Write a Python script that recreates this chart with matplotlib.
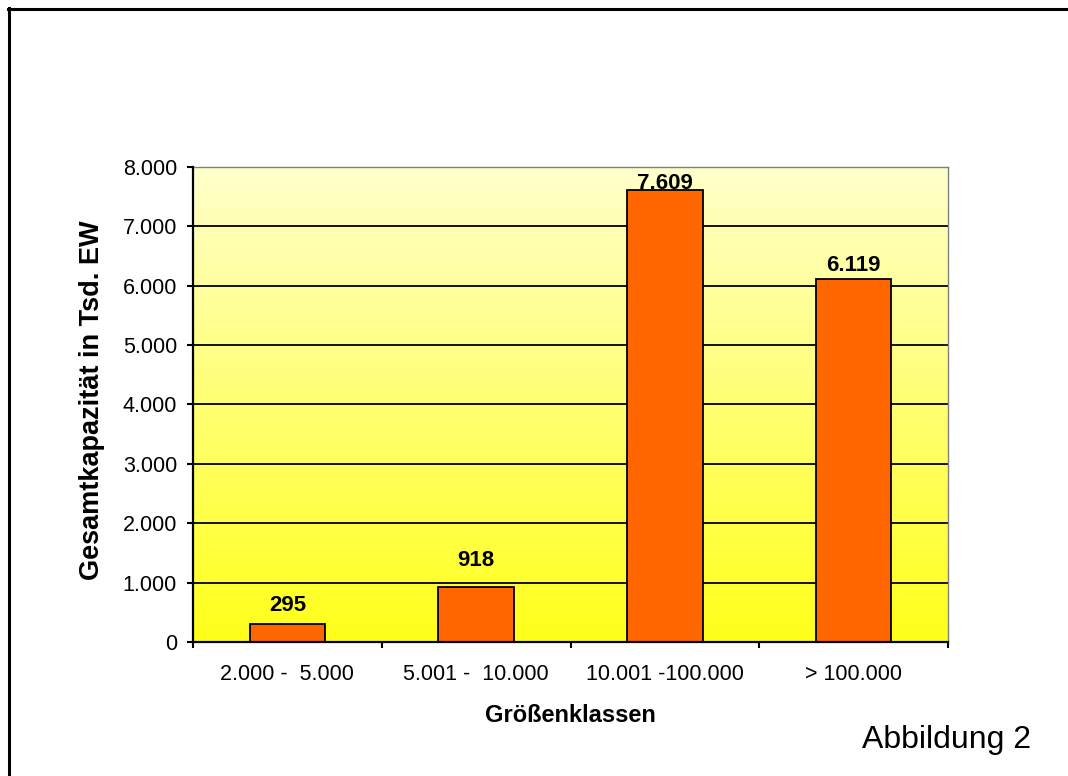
import numpy as np
import matplotlib
matplotlib.use("Agg")
import matplotlib.pyplot as plt
from matplotlib.colors import LinearSegmentedColormap
from matplotlib.lines import Line2D
from matplotlib.ticker import FuncFormatter

plt.rcParams['font.family'] = ['Liberation Sans', 'DejaVu Sans']

categories = ["2.000 -  5.000", "5.001 -  10.000", "10.001 -100.000", "> 100.000"]
values = [295, 918, 7609, 6119]
value_labels = ["295", "918", "7.609", "6.119"]
y_ticks = [0, 1000, 2000, 3000, 4000, 5000, 6000, 7000, 8000]

W, H = 1068, 776
fig = plt.figure(figsize=(W / 100, H / 100), dpi=100)
fig.patch.set_facecolor("white")

ax_l, ax_r, ax_t, ax_b = 193, 948, 167, 642
ax = fig.add_axes([ax_l / W, 1 - ax_b / H, (ax_r - ax_l) / W, (ax_b - ax_t) / H])

x = np.arange(len(categories))
ax.set_xlim(-0.5, len(categories) - 0.5)
ax.set_ylim(0, 8000)

# gradient background
cmap = LinearSegmentedColormap.from_list("yel", [(1.0, 1.0, 0.10), (1.0, 1.0, 0.80)])
grad = np.linspace(0, 1, 256).reshape(-1, 1)
ax.imshow(grad, cmap=cmap, origin="lower", aspect="auto",
          extent=[-0.5, len(categories) - 0.5, 0, 8000], zorder=0)

# gridlines
for yv in y_ticks[1:-1]:
    ax.axhline(yv, color="black", lw=1.3, zorder=1)

bars = ax.bar(x, values, width=0.40, color="#FF6600", edgecolor="black",
              linewidth=1.3, zorder=2)

gaps_px = [13, 21, 1, 8]
for xi, v, lab, g in zip(x, values, value_labels, gaps_px):
    ax.annotate(lab, xy=(xi, v), xytext=(0, g * 0.72), textcoords="offset points",
                ha="center", va="baseline", fontsize=16, fontweight="bold", zorder=5)

ax.set_yticks(y_ticks)
ax.yaxis.set_major_formatter(FuncFormatter(lambda v, p: f"{int(v):,}".replace(",", ".")))
ax.tick_params(axis="y", direction="out", length=4.5, width=1.5, labelsize=15.5, pad=7)

ax.set_xticks(np.arange(-0.5, len(categories), 1.0))
ax.set_xticklabels([])
ax.set_xticks(x, minor=True)
ax.set_xticklabels(categories, minor=True)
ax.tick_params(axis="x", which="major", direction="out", length=4.5, width=1.5)
ax.tick_params(axis="x", which="minor", length=0, labelsize=15.5, pad=16)

for s in ["left", "bottom"]:
    ax.spines[s].set_color("black")
    ax.spines[s].set_linewidth(1.6)
for s in ["top", "right"]:
    ax.spines[s].set_color("#808080")
    ax.spines[s].set_linewidth(1.0)
ax.spines["left"].set_zorder(4)
ax.spines["bottom"].set_zorder(4)

fig.text(92 / W, 1 - 400 / H, "Gesamtkapazität in Tsd. EW", rotation=90,
         ha="center", va="center", fontsize=19.5, fontweight="bold")
fig.text(570 / W, 1 - 715 / H, "Größenklassen", ha="center", va="center",
         fontsize=17, fontweight="bold")
fig.text(862 / W, 1 - 740 / H, "Abbildung 2", ha="left", va="center", fontsize=23)

# figure frame (top and left)
fig.add_artist(Line2D([7.5 / W, 1.0], [1 - 8.5 / H, 1 - 8.5 / H], color="black",
                      lw=2.2, transform=fig.transFigure))
fig.add_artist(Line2D([8.5 / W, 8.5 / W], [0.0, 1 - 7.5 / H], color="black",
                      lw=2.2, transform=fig.transFigure))

fig.savefig("out.png", dpi=100)
